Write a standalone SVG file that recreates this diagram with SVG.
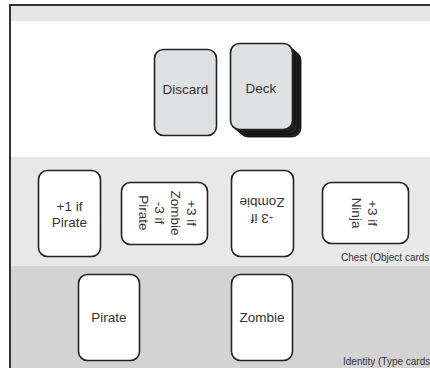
<svg xmlns="http://www.w3.org/2000/svg" width="430" height="368" viewBox="0 0 430 368">
<style>
.card{stroke:#222;stroke-width:1.6}
.grey{fill:#dfe0e1}
.white{fill:#ffffff}
.t{font-family:"Liberation Sans",Arial,sans-serif;font-size:13.5px;fill:#333;text-anchor:middle}
.lbl{font-family:"Liberation Sans",Arial,sans-serif;font-size:10px;fill:#333}
.stack{fill:#222;stroke:#000;stroke-width:0.8}
</style>
<g id="lanes">
<rect x="10" y="5" width="440" height="380" fill="#ffffff"/>
<rect x="10" y="5" width="440" height="16" fill="#e6e6e6"/>
<rect x="10" y="157" width="440" height="109" fill="#e8e8e8"/>
<rect x="10" y="266" width="440" height="120" fill="#d3d3d3"/>
<rect x="10" y="5" width="440" height="380" fill="none" stroke="#333" stroke-width="2"/>
<text class="lbl" x="341" y="261">Chest (Object cards</text>
<text class="lbl" x="343" y="365">Identity (Type cards</text>
</g>
<g id="discard">
<rect class="card grey" x="154.5" y="49.5" width="62" height="86" rx="9"/>
<text class="t" x="185.5" y="93.5">Discard</text>
</g>
<g id="deck">
<rect class="stack" x="239" y="51" width="62" height="86" rx="9"/>
<rect class="stack" x="236" y="48.5" width="62" height="86" rx="9" stroke="#555"/>
<rect class="stack" x="233" y="46" width="62" height="86" rx="9" stroke="#555"/>
<rect class="card grey" x="230.5" y="43.5" width="62" height="86" rx="9"/>
<text class="t" x="261" y="93">Deck</text>
</g>
<g id="chest1">
<rect class="card white" x="38.5" y="170.5" width="62" height="86" rx="9"/>
<text class="t" x="69.5" y="211">+1 if</text>
<text class="t" x="69.5" y="227">Pirate</text>
</g>
<g id="chest2">
<rect class="card white" x="121.5" y="182.5" width="86" height="62" rx="9"/>
<g transform="translate(167,213) rotate(90)">
<text class="t" x="0" y="-20">+3 if</text>
<text class="t" x="0" y="-4">Zombie</text>
<text class="t" x="0" y="12">-3 if</text>
<text class="t" x="0" y="28">Pirate</text>
</g>
</g>
<g id="chest3">
<rect class="card white" x="231.5" y="170.5" width="62" height="86" rx="9"/>
<g transform="translate(262,211) rotate(180)">
<text class="t" x="0" y="-3">-3 if</text>
<text class="t" x="0" y="13">Zombie</text>
</g>
</g>
<g id="chest4">
<rect class="card white" x="322.5" y="182.5" width="86" height="61" rx="9"/>
<g transform="translate(365,213) rotate(90)">
<text class="t" x="0" y="-3">+3 if</text>
<text class="t" x="0" y="13">Ninja</text>
</g>
</g>
<g id="identity1">
<rect class="card white" x="78.5" y="274.5" width="61" height="86" rx="9"/>
<text class="t" x="109" y="322">Pirate</text>
</g>
<g id="identity2">
<rect class="card white" x="231.5" y="274.5" width="61" height="86" rx="9"/>
<text class="t" x="262" y="322">Zombie</text>
</g>
<g id="connectors"/>
</svg>
